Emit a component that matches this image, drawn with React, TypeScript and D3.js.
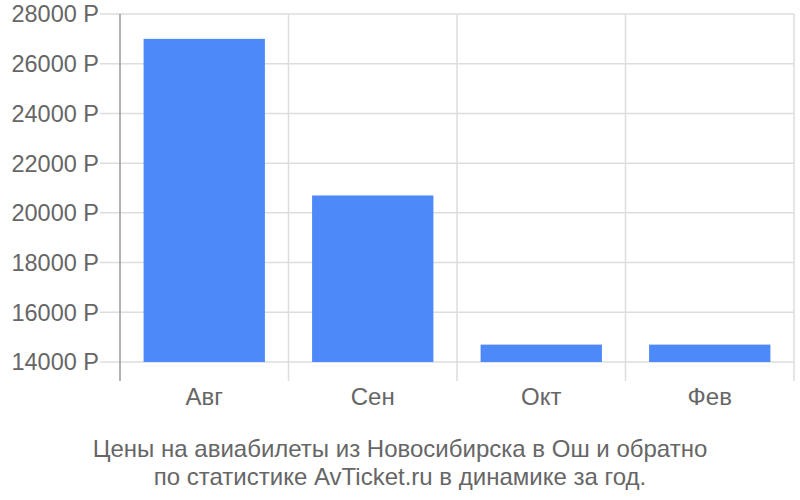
import React from 'react';
import * as d3 from 'd3';

const months = ['Авг', 'Сен', 'Окт', 'Фев'];
const prices = [27000, 20700, 14700, 14700];
const yTicks = [14000, 16000, 18000, 20000, 22000, 24000, 26000, 28000];
const captionLines = [
  'Цены на авиабилеты из Новосибирска в Ош и обратно',
  'по статистике AvTicket.ru в динамике за год.',
];

export default function App() {
  const width = 800;
  const height = 500;
  const margin = { top: 14, right: 6, bottom: 138, left: 120 };
  const innerW = width - margin.left - margin.right;
  const innerH = height - margin.top - margin.bottom;

  const x = d3.scaleBand<string>().domain(months).range([0, innerW]).paddingInner(0.28).paddingOuter(0.14);
  const y = d3.scaleLinear().domain([14000, 28000]).range([innerH, 0]);
  const font = '"Liberation Sans", Arial, sans-serif';

  const bounds = months.map((_, i) => (innerW / months.length) * i).concat([innerW]);

  return (
    <svg width={width} height={height} style={{ position: 'absolute', left: 0, top: 0 }} fontFamily={font}>
      <g transform={`translate(${margin.left},${margin.top})`}>
        {/* horizontal gridlines */}
        {yTicks.map((t) => (
          <line key={t} x1={-20} x2={innerW} y1={y(t)} y2={y(t)} stroke="#dddddd" strokeWidth={1.5} />
        ))}
        {/* vertical gridlines */}
        {bounds.slice(1).map((bx, i) => (
          <line key={i} x1={bx} x2={bx} y1={0} y2={innerH + 19} stroke="#dddddd" strokeWidth={1.5} />
        ))}
        {/* bars */}
        {months.map((m, i) => (
          <rect
            key={m}
            x={x(m)}
            y={y(prices[i])}
            width={x.bandwidth()}
            height={innerH - y(prices[i])}
            fill="#4d89f9"
          />
        ))}
        {/* left axis */}
        <line x1={0} x2={0} y1={0} y2={innerH + 19} stroke="#999999" strokeWidth={1.5} />
        {/* y labels */}
        {yTicks.map((t) => (
          <text key={t} x={-21} y={y(t)} dy="0.36em" textAnchor="end" fontSize={23.5} fill="#666666">
            {`${t} Р`}
          </text>
        ))}
        {/* x labels */}
        {months.map((m) => (
          <text key={m} x={(x(m) ?? 0) + x.bandwidth() / 2} y={innerH + 43} textAnchor="middle" fontSize={24} fill="#666666">
            {m}
          </text>
        ))}
      </g>
      {captionLines.map((line, i) => (
        <text key={i} x={400} y={457 + i * 28} textAnchor="middle" fontSize={24} fill="#666666">
          {line}
        </text>
      ))}
    </svg>
  );
}
